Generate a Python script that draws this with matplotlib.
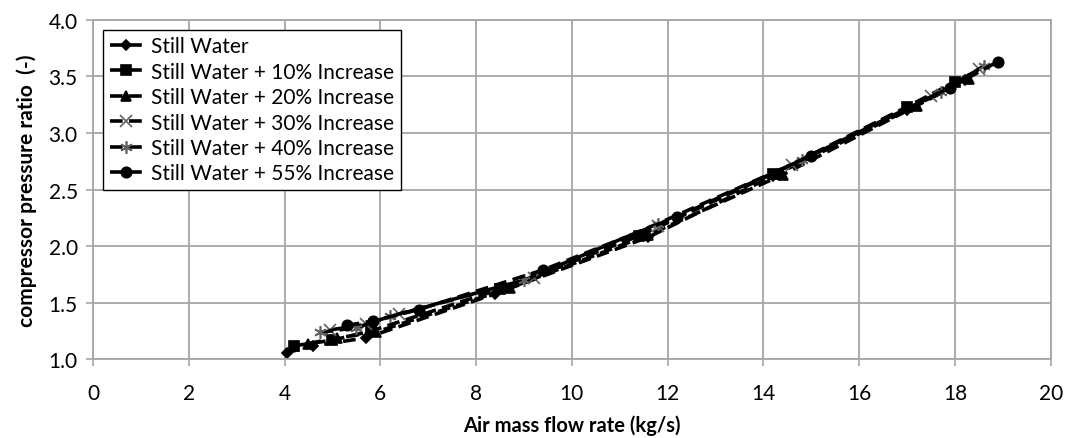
import matplotlib
matplotlib.use('Agg')
import matplotlib.pyplot as plt
import numpy as np

plt.rcParams['font.family'] = ['Lato', 'DejaVu Sans']

# Series data (air mass flow kg/s, pressure ratio)
labels = [
    'Still Water',
    'Still Water + 10% Increase',
    'Still Water + 20% Increase',
    'Still Water + 30% Increase',
    'Still Water + 40% Increase',
    'Still Water + 55% Increase',
]
x_still = [4.05, 4.6, 5.7, 8.4, 11.6, 14.2, 17.0, 18.2]
y_still = [1.06, 1.12, 1.19, 1.58, 2.08, 2.62, 3.20, 3.47]
x_10 = [4.2, 5.0, 5.8, 8.5, 11.4, 14.2, 17.0, 18.0]
y_10 = [1.12, 1.17, 1.25, 1.62, 2.09, 2.64, 3.23, 3.45]
x_20 = [4.5, 5.1, 5.9, 8.7, 11.6, 14.4, 17.2, 18.3]
y_20 = [1.14, 1.19, 1.24, 1.63, 2.10, 2.63, 3.24, 3.48]
x_30 = [4.95, 5.7, 6.4, 9.2, 11.8, 14.6, 17.5, 18.5]
y_30 = [1.26, 1.31, 1.40, 1.72, 2.18, 2.72, 3.33, 3.56]
x_40 = [4.75, 5.5, 6.2, 9.0, 11.8, 14.8, 17.7, 18.6]
y_40 = [1.24, 1.28, 1.38, 1.70, 2.20, 2.76, 3.36, 3.59]
x_55 = [5.3, 5.85, 6.8, 9.4, 12.2, 15.0, 17.9, 18.9]
y_55 = [1.30, 1.34, 1.44, 1.79, 2.26, 2.80, 3.40, 3.63]

xs = [x_still, x_10, x_20, x_30, x_40, x_55]
ys = [y_still, y_10, y_20, y_30, y_40, y_55]
markers = ['D', 's', '^', 'x', (6, 2, 0), 'o']
msizes = [5, 7.5, 7.5, 8, 9, 7.5]
mcolors = ['black', 'black', 'black', '#606060', '#606060', 'black']

fig = plt.figure(figsize=(10.81, 4.39), dpi=100)
ax = fig.add_axes([0.086, 0.179, 0.886, 0.774])

for x, y, lab, m, ms, mc in zip(xs, ys, labels, markers, msizes, mcolors):
    ax.plot(x, y, color='black', ls=(0, (3.5, 1.8)), lw=2.6,
            marker=m, ms=ms, mfc=mc, mec=mc, mew=1.2, label=lab)

ax.set_xlim(0, 20)
ax.set_ylim(1.0, 4.0)
ax.set_xticks(np.arange(0, 21, 2))
ax.set_yticks(np.arange(1.0, 4.01, 0.5))
ax.yaxis.set_major_formatter(matplotlib.ticker.FormatStrFormatter('%.1f'))
ax.grid(True, color='#a6a6a6', lw=1.3)
ax.set_axisbelow(True)
for s in ax.spines.values():
    s.set_color('#a6a6a6')
    s.set_linewidth(1.3)
ax.tick_params(axis='both', colors='#a6a6a6', labelcolor='black',
               labelsize=15, length=5, width=1.2)
ax.tick_params(axis='x', pad=12)
ax.tick_params(axis='y', pad=6)

ax.set_xlabel('Air mass flow rate (kg/s)', fontsize=14.5, fontweight='bold',
              labelpad=8)
ax.set_ylabel('compressor pressure ratio  (-)', fontsize=15,
              fontweight='bold', labelpad=8)

leg = ax.legend(loc='upper left', fontsize=15, frameon=True, fancybox=False,
                edgecolor='black', framealpha=1, handlelength=1.6,
                handletextpad=0.4, labelspacing=0.26,
                borderpad=0.3, borderaxespad=0.5)
leg.get_frame().set_linewidth(1.0)

fig.savefig('out.png', dpi=100)
